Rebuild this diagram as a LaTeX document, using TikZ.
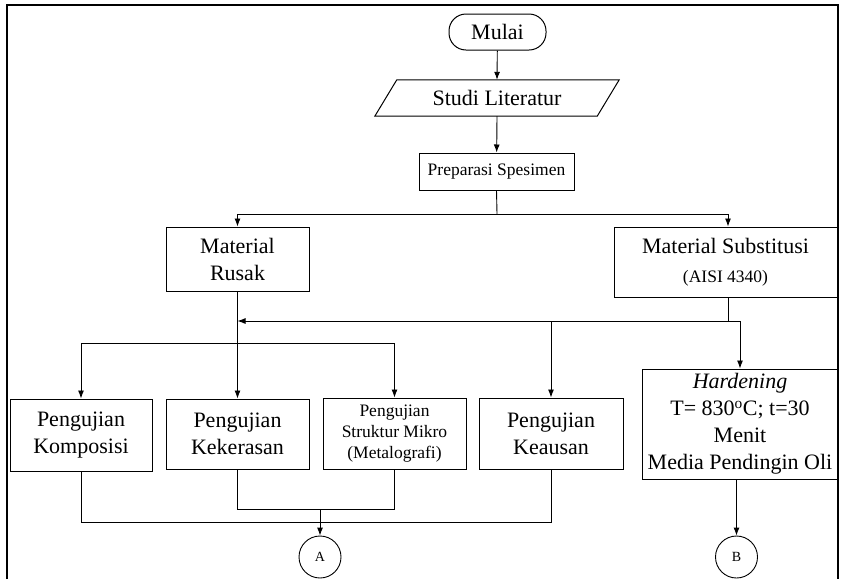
\documentclass[tikz,border=0pt]{standalone}
\usepackage{fontspec}
\setmainfont{Liberation Serif}
\usetikzlibrary{arrows.meta}
\newcommand{\Tbig}{\fontsize{22}{27}\selectfont}
\newcommand{\Tsmall}{\fontsize{17.5}{21}\selectfont}
\newcommand{\Ttiny}{\fontsize{14}{16}\selectfont}
\tikzset{
  box/.style={draw, line width=1pt, align=center, inner sep=1pt, font=\Tbig},
  smallbox/.style={box, font=\Tsmall},
  term/.style={box, rounded corners=17pt},
  conn/.style={circle, draw, line width=0.9pt, minimum size=42pt, inner sep=0pt, font=\Ttiny},
  line/.style={line width=0.9pt},
  arr/.style={line, -{Latex[length=8pt,width=6pt]}},
}

\begin{document}
\begin{tikzpicture}[x=1pt, y=-1pt]
  \useasboundingbox (0,0) rectangle (842,579);
  % frame
  \draw[line width=2.5pt] (7,579) -- (7,5) -- (838,5) -- (838,579);

  \node[term, minimum width=97pt, minimum height=36pt] (mulai) at (497.5,32) {Mulai};
  \node[minimum width=222pt, minimum height=36pt, font=\Tbig, inner sep=0pt] (studi) at (497,98) {Studi Literatur};
  \draw[line width=1pt] ([xshift=11pt]studi.north west) -- ([xshift=11pt]studi.north east)
    -- ([xshift=-11pt]studi.south east) -- ([xshift=-11pt]studi.south west) -- cycle;
  \node[smallbox, minimum width=155pt, minimum height=37pt] (prep) at (496.5,171.5) {Preparasi Spesimen};

  \node[box, minimum width=143pt, minimum height=64pt] (rusak) at (237.5,259) {Material\\Rusak};
  \node[box, minimum width=223pt, minimum height=70pt] (subst) at (725.5,262) {Material Substitusi\\[2pt]{\Tsmall (AISI 4340)}};

  \node[box, minimum width=142pt, minimum height=72pt] (komp) at (81,435) {Pengujian\\Komposisi};
  \node[box, minimum width=143pt, minimum height=70pt] (keras) at (237.5,434) {Pengujian\\Kekerasan};
  \node[smallbox, minimum width=143pt, minimum height=71pt] (mikro) at (394.5,433.5) {Pengujian\\Struktur Mikro\\(Metalografi)};
  \node[box, minimum width=144pt, minimum height=71pt] (aus) at (551,433.5) {Pengujian\\Keausan};
  \node[box, minimum width=195pt, minimum height=110pt, inner sep=0pt] (hard) at (740,424)
    {\textit{Hardening}\\T= 830\textsuperscript{o}C; t=30\\Menit\\Media Pendingin Oli};

  \node[conn] (A) at (320,557) {A};
  \node[conn] (B) at (736.5,557) {B};

  % junctions
  \coordinate (j1) at (497,214);
  \coordinate (j2) at (237.5,343);
  \coordinate (j3) at (728,321);
  \coordinate (j4) at (320,509);
  \coordinate (j5) at (320,522);

  \draw[arr] (mulai) -- (studi.south |- studi.north);
  \draw[arr] (studi.south) -- (prep);
  \draw[line] (prep.south) -- (j1);
  \draw[arr] (j1) -| (rusak.north);
  \draw[arr] (j1) -| (j3 |- subst.north);

  \draw[arr] (rusak.south) -- (keras.north);
  \draw[arr] (j2) -| (komp.north);
  \draw[arr] (j2) -| (mikro.north);

  \draw[line] (j3 |- subst.south) -- (j3);
  \draw[arr] (j3) -- (j3 -| rusak.south);
  \draw[arr] (j3) -| (hard.north);
  \draw[arr] (aus.north |- j3) -- (aus.north);

  \draw[line] (keras.south) |- (j4) -| (mikro.south);
  \draw[line] (komp.south) |- (j5) -| (aus.south);
  \draw[arr] (j4) -- (A.north);
  \draw[arr] (B.north |- hard.south) -- (B.north);
\end{tikzpicture}
\end{document}
